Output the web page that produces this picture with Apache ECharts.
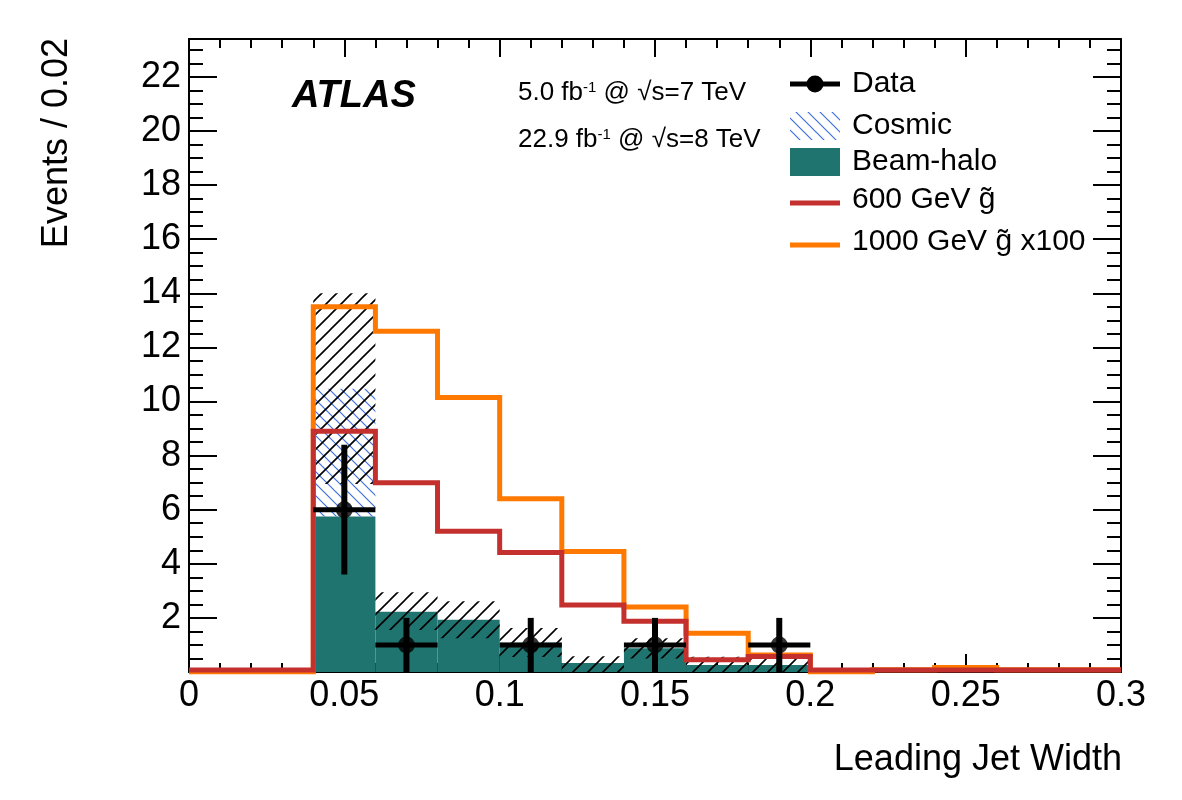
<!DOCTYPE html>
<html>
<head>
<meta charset="utf-8">
<title>Leading Jet Width</title>
<script src="https://cdn.jsdelivr.net/npm/echarts@6/dist/echarts.min.js"></script>
<style>
  html, body { margin: 0; padding: 0; background: #fff; }
  #chart { width: 1182px; height: 800px; }
</style>
</head>
<body>
<div id="chart"></div>
<script>
  // histogram bins, width 0.02
  const binEdges = [0, 0.02, 0.04, 0.06, 0.08, 0.10, 0.12, 0.14, 0.16, 0.18, 0.20, 0.22, 0.24, 0.26, 0.28, 0.30];

  // backgrounds (stacked)
  const beamHalo = [0, 0, 5.75, 2.23, 1.93, 1.08, 0.33, 0.88, 0.26, 0.26, 0, 0, 0, 0, 0];
  const cosmic   = [0, 0, 4.72, 0, 0, 0, 0, 0, 0, 0, 0, 0, 0, 0, 0];
  // uncertainty band on total background
  const bkgErrLo = [0, 0, 6.95, 1.55, 1.25, 0.55, 0, 0.5, 0, 0, 0, 0, 0, 0, 0];
  const bkgErrHi = [0, 0, 14.0, 2.95, 2.62, 1.63, 0.58, 1.25, 0.56, 0.56, 0, 0, 0, 0, 0];

  // signals
  const gluino600  = [0.07, 0.07, 8.9, 7.0, 5.2, 4.42, 2.48, 1.88, 0.45, 0.57, 0.07, 0.07, 0.07, 0.07, 0.07];
  const gluino1000 = [0, 0, 13.5, 12.6, 10.15, 6.4, 4.45, 2.4, 1.43, 0.63, 0, 0.08, 0.17, 0.08, 0.08];

  // data points
  const dataX  = [0.05, 0.07, 0.11, 0.15, 0.19];
  const dataY  = [6, 1, 1, 1, 1];
  const dataLo = [3.6, 0, 0, 0, 0];
  const dataHi = [8.4, 2, 2, 2, 2];

  const yLabels = ['2', '4', '6', '8', '10', '12', '14', '16', '18', '20', '22'];
  const yMax = 23.4;

  const TEAL = '#20746f';
  const RED = '#c4302d';
  const ORANGE = '#ff7800';
  const FONT = 'Liberation Sans, Arial, Helvetica, sans-serif';

  function hatch(color, size, width, dir) {
    const c = document.createElement('canvas');
    c.width = size; c.height = size;
    const ctx = c.getContext('2d');
    ctx.strokeStyle = color;
    ctx.lineWidth = width;
    ctx.beginPath();
    if (dir === '/') {
      ctx.moveTo(0, size); ctx.lineTo(size, 0);
      ctx.moveTo(-size / 2, size / 2); ctx.lineTo(size / 2, -size / 2);
      ctx.moveTo(size / 2, size * 1.5); ctx.lineTo(size * 1.5, size / 2);
    } else {
      ctx.moveTo(0, 0); ctx.lineTo(size, size);
      ctx.moveTo(-size / 2, size / 2); ctx.lineTo(size / 2, size * 1.5);
      ctx.moveTo(size / 2, -size / 2); ctx.lineTo(size * 1.5, size / 2);
    }
    ctx.stroke();
    return { image: c, repeat: 'repeat' };
  }

  const blueHatch = hatch('#3f6fe0', 12, 1.2, '\\');
  const blackHatch = hatch('#000', 15, 1.6, '/');

  function binRects(lo, hi) {
    return lo.map((v, i) => [binEdges[i], binEdges[i + 1], v, hi[i]]).filter(d => d[3] > d[2]);
  }

  function rectSeries(name, data, fill, z) {
    return {
      name: name,
      type: 'custom',
      z: z,
      data: data,
      encode: { x: [0, 1], y: [2, 3] },
      renderItem: function (params, api) {
        const p0 = api.coord([api.value(0), api.value(3)]);
        const p1 = api.coord([api.value(1), api.value(2)]);
        return {
          type: 'rect',
          shape: { x: p0[0], y: p0[1], width: p1[0] - p0[0], height: p1[1] - p0[1] },
          style: { fill: fill }
        };
      }
    };
  }

  function stepData(vals) {
    const d = vals.map((v, i) => [binEdges[i], v]);
    d.push([binEdges[binEdges.length - 1], vals[vals.length - 1]]);
    return d;
  }

  const stackTop = beamHalo.map((v, i) => v + cosmic[i]);
  const halfBin = (binEdges[1] - binEdges[0]) / 2;

  function axisX(pos, labels) {
    return {
      type: 'value', position: pos, min: 0, max: 0.3, interval: 0.05,
      axisLine: { show: true, onZero: false, lineStyle: { color: '#000', width: 2 } },
      axisTick: { show: true, inside: true, length: 18, lineStyle: { color: '#000', width: 2 } },
      minorTick: { show: true, splitNumber: 5, length: 9, lineStyle: { color: '#000', width: 2 } },
      splitLine: { show: false },
      axisLabel: { show: labels, color: '#000', fontSize: 36, fontFamily: FONT, margin: 6 }
    };
  }

  function axisY(pos, interval, tickLen, labels) {
    return {
      type: 'value', position: pos, min: 0, max: yMax, interval: interval,
      axisLine: { show: true, onZero: false, lineStyle: { color: '#000', width: 2 } },
      axisTick: { show: true, inside: true, length: tickLen, lineStyle: { color: '#000', width: 2 } },
      splitLine: { show: false },
      axisLabel: {
        show: labels, color: '#000', fontSize: 36, fontFamily: FONT, margin: 8,
        formatter: v => (yLabels.indexOf(String(v)) >= 0 ? String(v) : '')
      }
    };
  }

  const lumiRich = {
    a: { fontSize: 26, fontFamily: FONT, fill: '#000' },
    s: { fontSize: 15, fontFamily: FONT, fill: '#000', verticalAlign: 'top' }
  };

  const chart = echarts.init(document.getElementById('chart'));
  chart.setOption({
    animation: false,
    backgroundColor: '#fff',
    grid: { left: 189, right: 61, top: 39, bottom: 128 },
    xAxis: [axisX('bottom', true), axisX('top', false)],
    yAxis: [
      axisY('left', 2, 28, true),
      axisY('left', 0.5, 14, false),
      axisY('right', 2, 28, false),
      axisY('right', 0.5, 14, false)
    ],
    series: [
      rectSeries('Beam-halo', binRects(beamHalo.map(() => 0), beamHalo), TEAL, 1),
      rectSeries('Cosmic', binRects(beamHalo, stackTop), blueHatch, 2),
      rectSeries('Uncertainty', binRects(bkgErrLo, bkgErrHi), blackHatch, 3),
      {
        name: '1000 GeV', type: 'line', step: 'end', data: stepData(gluino1000),
        symbol: 'none', z: 4, lineStyle: { color: ORANGE, width: 5, join: 'miter' }
      },
      {
        name: '600 GeV', type: 'line', step: 'end', data: stepData(gluino600),
        symbol: 'none', z: 5, lineStyle: { color: RED, width: 5, join: 'miter' }
      },
      {
        name: 'Data errors',
        type: 'custom',
        z: 6,
        data: dataX.map((x, i) => [x, dataY[i], dataLo[i], dataHi[i]]),
        encode: { x: 0, y: [1, 2, 3] },
        renderItem: function (params, api) {
          const x = api.value(0), y = api.value(1);
          const a = api.coord([x - halfBin, y]);
          const b = api.coord([x + halfBin, y]);
          const c = api.coord([x, api.value(2)]);
          const d = api.coord([x, api.value(3)]);
          return {
            type: 'group',
            children: [
              { type: 'line', shape: { x1: a[0], y1: a[1], x2: b[0], y2: b[1] }, style: { stroke: '#000', lineWidth: 5 } },
              { type: 'line', shape: { x1: c[0], y1: c[1], x2: d[0], y2: d[1] }, style: { stroke: '#000', lineWidth: 6 } }
            ]
          };
        }
      },
      {
        name: 'Data', type: 'scatter', z: 7, symbolSize: 17,
        data: dataX.map((x, i) => [x, dataY[i]]),
        itemStyle: { color: '#000' }
      }
    ],
    graphic: [
      { type: 'text', x: 292, y: 97, style: { text: 'ATLAS', font: 'italic bold 38px ' + FONT, fill: '#000', verticalAlign: 'middle' } },
      { type: 'text', x: 518, y: 93, style: { text: '{a|5.0 fb}{s|-1}{a| @ √s=7 TeV}', verticalAlign: 'middle', rich: lumiRich } },
      { type: 'text', x: 518, y: 140, style: { text: '{a|22.9 fb}{s|-1}{a| @ √s=8 TeV}', verticalAlign: 'middle', rich: lumiRich } },
      // legend
      { type: 'line', shape: { x1: 790, y1: 84, x2: 840, y2: 84 }, style: { stroke: '#000', lineWidth: 5 } },
      { type: 'circle', shape: { cx: 815, cy: 84, r: 8.5 }, style: { fill: '#000' } },
      { type: 'text', x: 852, y: 84, style: { text: 'Data', font: '30px ' + FONT, fill: '#000', verticalAlign: 'middle' } },
      { type: 'rect', shape: { x: 790, y: 112, width: 50, height: 28 }, style: { fill: blueHatch } },
      { type: 'text', x: 852, y: 126, style: { text: 'Cosmic', font: '30px ' + FONT, fill: '#000', verticalAlign: 'middle' } },
      { type: 'rect', shape: { x: 790, y: 148, width: 50, height: 28 }, style: { fill: TEAL } },
      { type: 'text', x: 852, y: 162, style: { text: 'Beam-halo', font: '30px ' + FONT, fill: '#000', verticalAlign: 'middle' } },
      { type: 'line', shape: { x1: 790, y1: 203, x2: 840, y2: 203 }, style: { stroke: RED, lineWidth: 5 } },
      { type: 'text', x: 852, y: 200, style: { text: '600 GeV g\u0303', font: '30px ' + FONT, fill: '#000', verticalAlign: 'middle' } },
      { type: 'line', shape: { x1: 790, y1: 245, x2: 840, y2: 245 }, style: { stroke: ORANGE, lineWidth: 5 } },
      { type: 'text', x: 852, y: 242, style: { text: '1000 GeV g\u0303 x100', font: '30px ' + FONT, fill: '#000', verticalAlign: 'middle' } },
      // axis titles
      { type: 'text', x: 57, y: 38, rotation: Math.PI / 2, style: { text: 'Events / 0.02', font: '36px ' + FONT, fill: '#000', align: 'right', verticalAlign: 'middle' } },
      { type: 'text', x: 1122, y: 760, style: { text: 'Leading Jet Width', font: '36px ' + FONT, fill: '#000', align: 'right', verticalAlign: 'middle' } }
    ]
  });
</script>
</body>
</html>
